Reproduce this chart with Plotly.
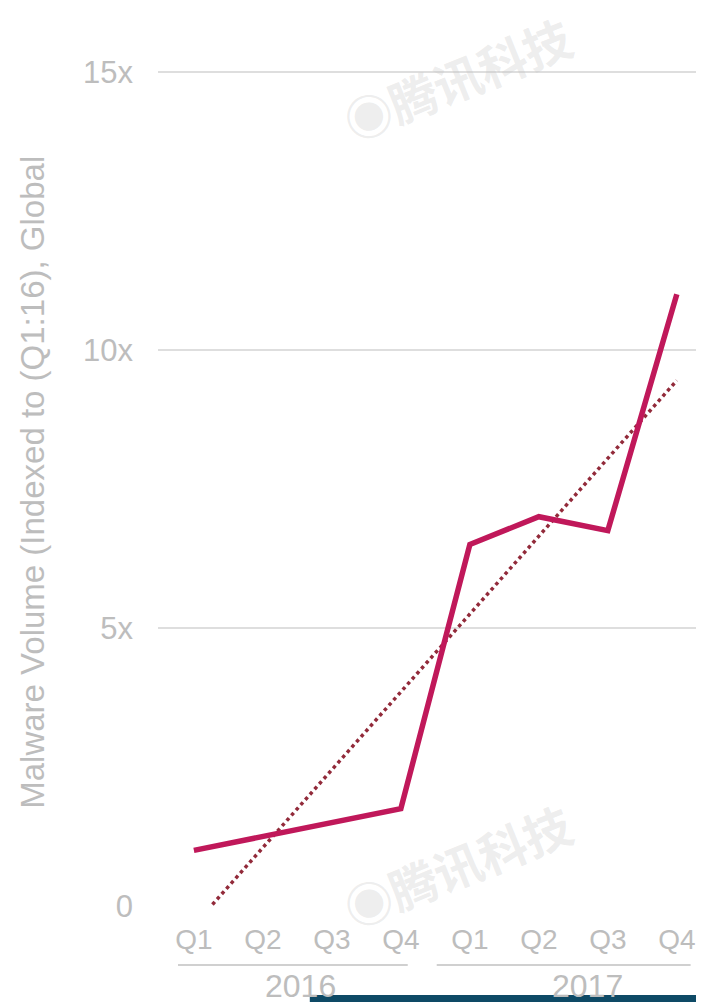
import plotly.graph_objects as go

# quarters, 2016-2017
QUARTERS = ["Q1", "Q2", "Q3", "Q4", "Q1", "Q2", "Q3", "Q4"]
YEARS = ["2016", "2017"]
# malware volume indexed to Q1 2016
VOLUME = [1.0, 1.25, 1.5, 1.75, 6.5, 7.0, 6.75, 11.0]
# dotted trend line, read at its two ends (Q1 2016, Q4 2017)
TREND_X = [0, 7]
TREND_Y = [-0.35, 9.45]

Y_TICKS = [0, 5, 10, 15]
Y_TICKTEXT = ["0", "5x", "10x", "15x"]

LINE = "#c0185a"
TREND = "#922a3a"
GRID = "#dedede"
TEXT = "#bdbdbd"
FONT = "Liberation Sans"

x_idx = list(range(len(QUARTERS)))

fig = go.Figure()
fig.add_scatter(
    x=TREND_X, y=TREND_Y, mode="lines",
    line=dict(color=TREND, width=3.5, dash="dot"),
    hoverinfo="skip", showlegend=False,
)
fig.add_scatter(
    x=x_idx, y=VOLUME, mode="lines",
    line=dict(color=LINE, width=5.5),
    hovertemplate="%{y:.2f}x<extra></extra>", showlegend=False,
)

# year grouping under the quarter labels
underlines = [(-0.23, 3.1), (3.52, 7.2)]
year_x = [1.54, 5.7]
for (x0, x1), xc, yr in zip(underlines, year_x, YEARS):
    fig.add_shape(type="line", xref="x", yref="paper", x0=x0, x1=x1,
                  y0=-0.0684, y1=-0.0684, line=dict(color="#d0d0d0", width=2))
    fig.add_annotation(xref="x", yref="paper", x=xc, y=-0.0928,
                       xanchor="center", yanchor="middle", text=yr,
                       showarrow=False,
                       font=dict(family=FONT, size=32, color=TEXT))

# y-axis title
fig.add_annotation(xref="paper", yref="paper", x=-0.2256, y=0.491,
                   xanchor="center", yanchor="middle",
                   text="Malware Volume (Indexed to (Q1:16), Global",
                   textangle=-90, showarrow=False,
                   font=dict(family=FONT, size=33, color=TEXT))

# watermarks
for wy in [0.96, 0.048]:
    fig.add_annotation(xref="paper", yref="paper", x=0.54, y=wy,
                       xanchor="center", yanchor="middle",
                       text="<b>◉腾讯科技</b>", textangle=-22, showarrow=False,
                       font=dict(family="Noto Sans CJK SC", size=48,
                                 color="rgba(195,195,195,0.3)"))

# dark band along the bottom edge
fig.add_shape(type="rect", xref="paper", yref="paper", x0=0.274, x1=1.0,
              y0=-0.1032, y1=-0.1114, line=dict(width=0),
              fillcolor="#0e4a66", layer="above")

fig.update_layout(
    width=704, height=994,
    margin=dict(l=150, r=0, t=36, b=96),
    plot_bgcolor="white", paper_bgcolor="white",
    font=dict(family=FONT, color=TEXT),
    xaxis=dict(
        range=[-0.52, 7.51], tickvals=x_idx, ticktext=QUARTERS,
        showgrid=False, zeroline=False, showline=False,
        ticks="", ticklabelstandoff=14,
        tickfont=dict(family=FONT, size=28, color=TEXT),
    ),
    yaxis=dict(
        range=[0, 15.5], tickvals=Y_TICKS, ticktext=Y_TICKTEXT,
        showgrid=True, gridcolor=GRID, gridwidth=2, zeroline=False,
        ticks="", ticklabelstandoff=24,
        tickfont=dict(family=FONT, size=31, color=TEXT),
    ),
)

fig.write_html("out.html")
